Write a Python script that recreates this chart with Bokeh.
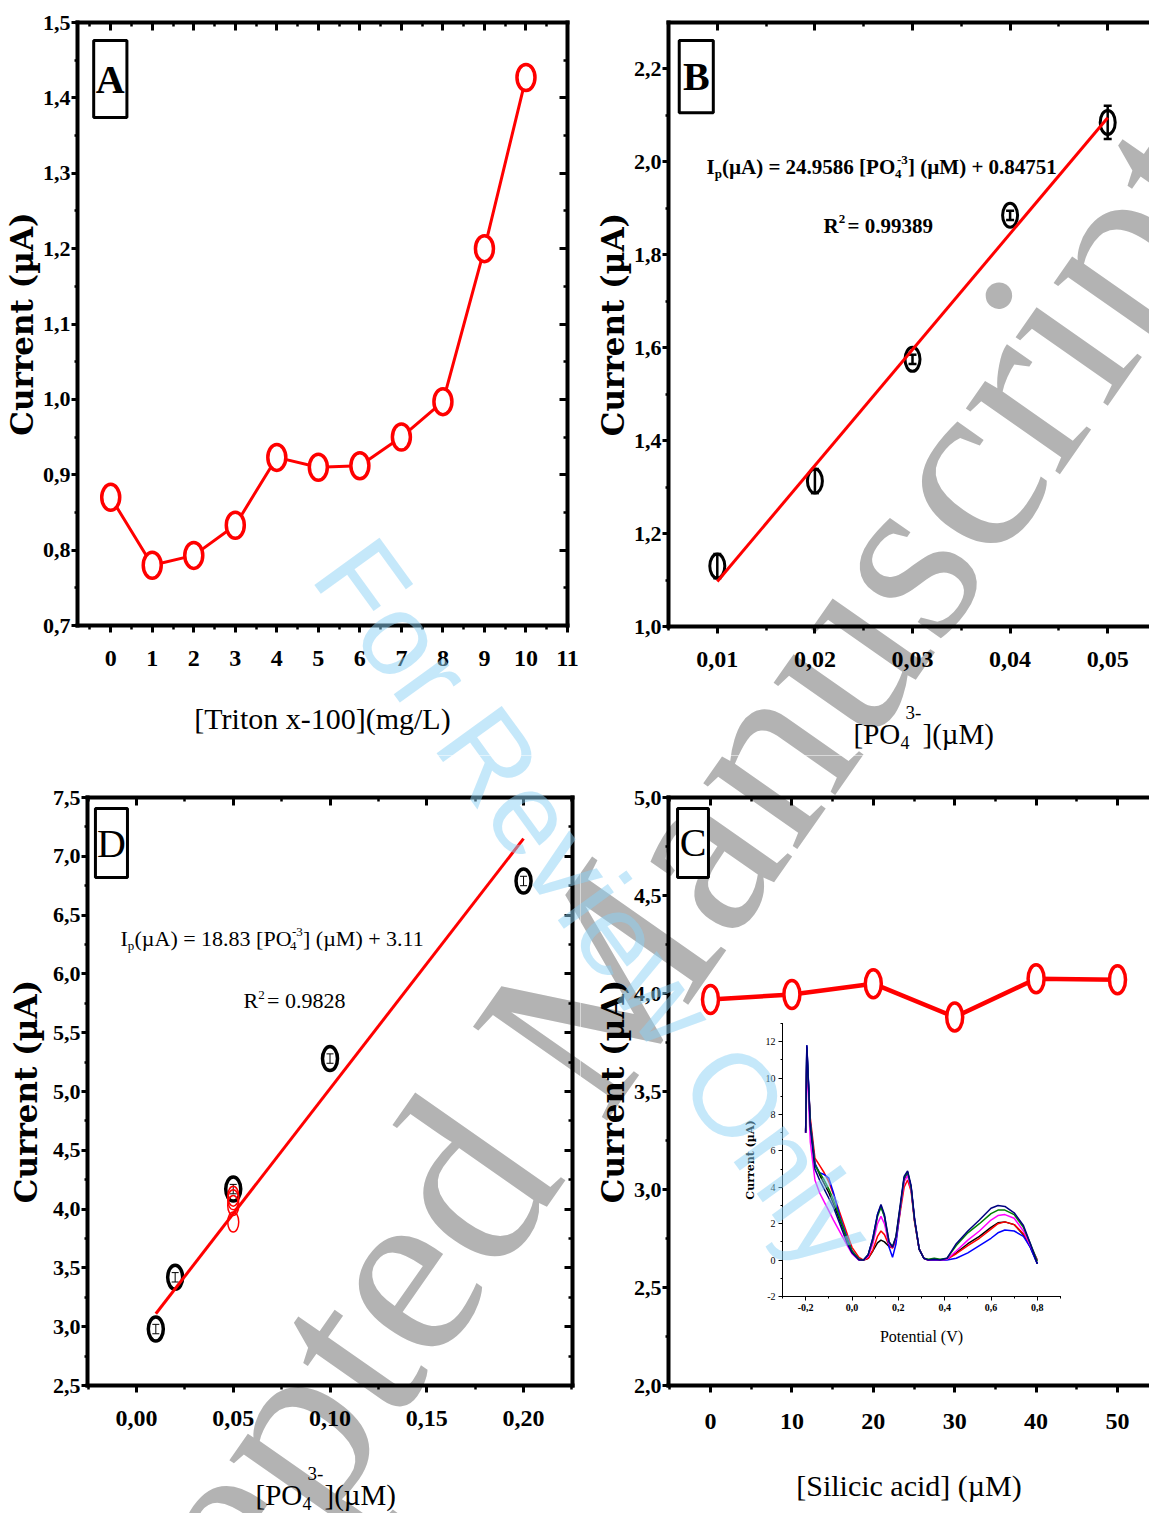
from bokeh.plotting import figure
from bokeh.models import (Range1d, LinearAxis, FixedTicker, Label, Whisker,
                          ColumnDataSource, TeeHead, CustomLabelingPolicy)
from bokeh.layouts import column, row
from bokeh.embed import file_html
from bokeh.resources import INLINE

# ---------------- data ----------------
# Panel A
a_triton = [0, 1, 2, 3, 4, 5, 6, 7, 8, 9, 10]
a_current = [0.870, 0.780, 0.793, 0.833, 0.923, 0.910, 0.912, 0.950, 0.997, 1.200, 1.427]
a_xticks = [0, 1, 2, 3, 4, 5, 6, 7, 8, 9, 10, 11]
a_xlabels = ["0", "1", "2", "3", "4", "5", "6", "7", "8", "9", "10", "11"]
a_yticks = [0.7, 0.8, 0.9, 1.0, 1.1, 1.2, 1.3, 1.4, 1.5]
a_ylabels = ["0,7", "0,8", "0,9", "1,0", "1,1", "1,2", "1,3", "1,4", "1,5"]

# Panel B
b_conc = [0.01, 0.02, 0.03, 0.04, 0.05]
b_current = [1.130, 1.313, 1.575, 1.885, 2.085]
b_err = [0.026, 0.026, 0.010, 0.010, 0.036]
b_fit_x = [0.01, 0.05]
b_fit_y = [1.097, 2.095]
b_xticks = [0.01, 0.02, 0.03, 0.04, 0.05]
b_xlabels = ["0,01", "0,02", "0,03", "0,04", "0,05"]
b_yticks = [1.0, 1.2, 1.4, 1.6, 1.8, 2.0, 2.2]
b_ylabels = ["1,0", "1,2", "1,4", "1,6", "1,8", "2,0", "2,2"]

# Panel D
d_conc = [0.01, 0.02, 0.05, 0.10, 0.20]
d_current = [2.98, 3.42, 4.17, 5.28, 6.79]
d_err = [0.04, 0.04, 0.04, 0.04, 0.04]
d_red_conc = [0.05, 0.05, 0.05, 0.05]
d_red_current = [4.11, 4.08, 4.03, 3.89]
d_fit_x = [0.01, 0.20]
d_fit_y = [3.11, 7.15]
d_xticks = [0.0, 0.05, 0.10, 0.15, 0.20]
d_xlabels = ["0,00", "0,05", "0,10", "0,15", "0,20"]
d_yticks = [2.5, 3.0, 3.5, 4.0, 4.5, 5.0, 5.5, 6.0, 6.5, 7.0, 7.5]
d_ylabels = ["2,5", "3,0", "3,5", "4,0", "4,5", "5,0", "5,5", "6,0", "6,5", "7,0", "7,5"]

# Panel C
c_silicic = [0, 10, 20, 30, 40, 50]
c_current = [3.97, 3.995, 4.05, 3.88, 4.075, 4.07]
c_xticks = [0, 10, 20, 30, 40, 50]
c_xlabels = ["0", "10", "20", "30", "40", "50"]
c_yticks = [2.0, 2.5, 3.0, 3.5, 4.0, 4.5, 5.0]
c_ylabels = ["2,0", "2,5", "3,0", "3,5", "4,0", "4,5", "5,0"]

# Inset of panel C (voltammograms)
inset_potential = [-0.2, -0.195, -0.18, -0.16, -0.14, -0.12, -0.10, -0.08, -0.05, -0.02,
                   0.0, 0.03, 0.05, 0.07, 0.09, 0.11, 0.125, 0.14, 0.16, 0.175,
                   0.19, 0.21, 0.225, 0.24, 0.255, 0.27, 0.29, 0.31, 0.33, 0.355,
                   0.38, 0.41, 0.45, 0.5, 0.55, 0.6, 0.63, 0.66, 0.7, 0.74, 0.77, 0.8]
inset_black = [7.0, 11.7, 7.5, 5.3, 4.7, 4.2, 3.7, 3.1, 2.1, 1.1,
               0.5, 0.05, 0.0, 0.1, 0.5, 0.95, 1.1, 1.0, 0.75, 0.7,
               1.2, 3.0, 4.4, 4.8, 4.0, 2.2, 0.6, 0.1, 0.0, 0.05,
               0.0, 0.05, 0.4, 0.9, 1.3, 1.8, 2.05, 2.1, 1.95, 1.4, 0.7, -0.2]
inset_red = [7.0, 11.0, 7.8, 5.6, 5.2, 4.8, 4.3, 3.6, 2.5, 1.4,
             0.7, 0.15, 0.0, 0.1, 0.55, 1.3, 1.6, 1.4, 0.8, 0.65,
             1.1, 2.8, 4.0, 4.4, 3.8, 2.1, 0.6, 0.1, 0.0, 0.0,
             0.0, 0.05, 0.35, 0.8, 1.2, 1.7, 2.0, 2.1, 1.95, 1.45, 0.8, 0.0]
inset_blue = [7.0, 11.8, 7.6, 5.3, 4.8, 4.7, 4.5, 3.7, 2.3, 1.2,
              0.5, 0.05, 0.0, 0.3, 1.2, 2.5, 3.0, 2.4, 0.7, 0.15,
              0.9, 3.0, 4.5, 4.8, 4.0, 2.2, 0.6, 0.1, 0.0, 0.0,
              0.0, 0.0, 0.1, 0.4, 0.8, 1.2, 1.5, 1.65, 1.6, 1.3, 0.7, -0.2]
inset_magenta = [7.0, 11.0, 6.5, 4.4, 3.7, 3.2, 2.7, 2.2, 1.5, 0.8,
                 0.35, 0.0, 0.0, 0.2, 0.9, 2.0, 2.4, 2.0, 0.9, 0.7,
                 1.2, 3.0, 4.3, 4.65, 3.9, 2.2, 0.6, 0.1, 0.0, 0.05,
                 0.0, 0.05, 0.5, 1.1, 1.6, 2.2, 2.45, 2.5, 2.3, 1.6, 0.8, 0.0]
inset_green = [7.1, 11.5, 7.5, 5.2, 4.8, 4.4, 3.9, 3.3, 2.2, 1.1,
               0.5, 0.05, 0.0, 0.3, 1.1, 2.4, 2.9, 2.4, 1.0, 0.75,
               1.3, 3.1, 4.5, 4.85, 4.0, 2.2, 0.6, 0.1, 0.05, 0.1,
               0.05, 0.1, 0.8, 1.5, 2.0, 2.55, 2.75, 2.75, 2.5, 1.8, 0.9, -0.05]
inset_navy = [7.0, 11.8, 7.3, 5.0, 4.4, 3.9, 3.4, 2.9, 1.9, 0.9,
              0.4, 0.0, 0.0, 0.3, 1.2, 2.5, 3.05, 2.5, 1.0, 0.7,
              1.3, 3.2, 4.6, 4.9, 4.1, 2.3, 0.6, 0.1, 0.0, 0.05,
              0.0, 0.1, 0.9, 1.6, 2.2, 2.85, 3.0, 2.95, 2.6, 1.9, 0.9, -0.2]
inset_series = [("black", inset_black), ("red", inset_red), ("blue", inset_blue),
                ("magenta", inset_magenta), ("green", inset_green), ("navy", inset_navy)]
inset_xticks = [-0.2, 0.0, 0.2, 0.4, 0.6, 0.8]
inset_xlabels = ["-0,2", "0,0", "0,2", "0,4", "0,6", "0,8"]
inset_yticks = [-2, 0, 2, 4, 6, 8, 10, 12]
inset_ylabels = ["-2", "0", "2", "4", "6", "8", "10", "12"]

# ---------------- styling helpers ----------------
SERIF = "Liberation Serif"
YLAB_FONT = "DejaVu Serif"


def midpoints(ticks, lo=None, hi=None):
    m = [(ticks[i] + ticks[i + 1]) / 2 for i in range(len(ticks) - 1)]
    step = ticks[1] - ticks[0]
    if lo is not None and ticks[0] - step / 2 >= lo:
        m = [ticks[0] - step / 2] + m
    if hi is not None and ticks[-1] + step / 2 <= hi:
        m = m + [ticks[-1] + step / 2]
    return m


def span_range(v0, v1, f0, f1, c0, c1):
    """Range covering canvas pixels c0..c1 when values v0, v1 sit at pixels f0, f1."""
    k = (v1 - v0) / (f1 - f0)
    return Range1d(v0 - (f0 - c0) * k, v1 + (c1 - f1) * k)


def span_range_y(v0, v1, f_bot, f_top, c_top, c_bot):
    k = (v1 - v0) / (f_bot - f_top)
    return Range1d(v0 - (c_bot - f_bot) * k, v1 + (f_top - c_top) * k)


def style_axis(ax, ticks, labels, minor, labelled, inward, major_len=8, minor_len=4,
               width=4, font_size="22px", bold=True, label_standoff=6):
    ax.ticker = FixedTicker(ticks=ticks, minor_ticks=minor)
    ax.axis_line_width = width
    ax.axis_line_color = "black"
    ax.axis_line_cap = "square"
    ax.major_tick_line_color = "black"
    ax.minor_tick_line_color = "black"
    ax.major_tick_line_width = 3 if width >= 3 else 1
    ax.minor_tick_line_width = 2.5 if width >= 3 else 1
    if inward:
        ax.major_tick_in, ax.major_tick_out = major_len, 0
        ax.minor_tick_in, ax.minor_tick_out = minor_len, 0
    else:
        ax.major_tick_in, ax.major_tick_out = 0, major_len
        ax.minor_tick_in, ax.minor_tick_out = 0, minor_len
    if labelled:
        ax.major_label_overrides = dict(zip(ticks, labels))
        ax.major_label_text_font = SERIF
        ax.major_label_text_font_size = font_size
        ax.major_label_text_font_style = "bold" if bold else "normal"
        ax.major_label_text_color = "black"
        ax.major_label_standoff = label_standoff
    else:
        ax.major_label_policy = CustomLabelingPolicy(code="return new Set()")
        ax.major_label_standoff = 0
        ax.axis_label = None


def make_panel(origin, size, xr, yr, frame, xt, xl, yt, yl, right=True, xlab_standoff=18):
    """A figure whose frame is its whole canvas; the panel's axes sit at fixed
    positions so that texts may be drawn anywhere on the canvas."""
    ox, oy = origin
    w, h = size
    fl, fr, ft, fb = frame
    p = figure(width=w, height=h,
               x_range=span_range(xr[0], xr[1], fl, fr, ox, ox + w),
               y_range=span_range_y(yr[0], yr[1], fb, ft, oy, oy + h),
               x_axis_location=None, y_axis_location=None,
               output_backend="svg", toolbar_location=None,
               min_border_left=0, min_border_right=0, min_border_top=0, min_border_bottom=0)
    p.outline_line_color = None
    p.xgrid.visible = False
    p.ygrid.visible = False
    p.background_fill_color = "white"
    p.border_fill_color = "white"
    xminor = midpoints(xt, xr[0], xr[1])
    yminor = midpoints(yt, yr[0], yr[1])
    bottom = LinearAxis(fixed_location=yr[0], bounds=xr)
    style_axis(bottom, xt, xl, xminor, True, False, major_len=7, font_size="24px",
               label_standoff=xlab_standoff)
    p.add_layout(bottom, "below")
    left = LinearAxis(fixed_location=xr[0], bounds=yr)
    style_axis(left, yt, yl, yminor, True, False, major_len=6, minor_len=3,
               font_size="22px", label_standoff=1)
    p.add_layout(left, "left")
    top = LinearAxis(fixed_location=yr[1], bounds=xr)
    style_axis(top, xt, xl, xminor, False, True)
    p.add_layout(top, "above")
    if right:
        rt = LinearAxis(fixed_location=xr[1], bounds=yr)
        style_axis(rt, yt, yl, yminor, False, True)
        p.add_layout(rt, "right")
    return p, bottom, left


def y_title(ax, standoff):
    ax.axis_label = "Current (µA)"
    ax.axis_label_text_font = YLAB_FONT
    ax.axis_label_text_font_size = "31px"
    ax.axis_label_text_font_style = "bold"
    ax.axis_label_text_color = "black"
    ax.axis_label_standoff = standoff


def x_title(ax, text, standoff):
    ax.axis_label = text
    ax.axis_label_text_font = SERIF
    ax.axis_label_text_font_size = "30px"
    ax.axis_label_text_font_style = "normal"
    ax.axis_label_text_color = "black"
    ax.axis_label_standoff = standoff


def clabel(p, origin, x, y, text, size, bold=False, font=SERIF, **kw):
    """Free text whose baseline-left corner sits at page position (x, y)."""
    ox, oy = origin
    lab = Label(x=x - ox, y=y - oy, x_units="canvas", y_units="canvas", text=text,
                text_font=font, text_font_size=f"{size}px",
                text_font_style="bold" if bold else "normal",
                text_color=kw.pop("text_color", "black"),
                text_baseline="alphabetic", text_align="left", **kw)
    p.add_layout(lab)


def watermark_under(p, origin):
    clabel(p, origin, -44, 1902, "Accepted Manuscript", 250, font=SERIF,
           angle=55, angle_units="deg", text_color="#b3b3b3", level="underlay")


def watermark_over(p, origin):
    clabel(p, origin, 341, 553, "For Review Only", 117, font="Liberation Sans",
           angle=-54, angle_units="deg", text_color="#8cd2f5", text_alpha=0.5)


def letter_box(p, l, r, t, b, letter, bold):
    p.quad(left=[l], right=[r], top=[t], bottom=[b], fill_color="white",
           line_color="black", line_width=3)
    p.add_layout(Label(x=(l + r) / 2, y=(t + b) / 2, text=letter, text_font=SERIF,
                       text_font_size="40px", text_font_style="bold" if bold else "normal",
                       text_align="center", text_baseline="middle", text_color="black"))


# ---------------- Panel A ----------------
OA, SA = (0, 0), (580, 755)
pA, axA_b, axA_l = make_panel(OA, SA, (-0.8, 11.0), (0.7, 1.5), (77, 567, 22, 625),
                              a_xticks, a_xlabels, a_yticks, a_ylabels)
watermark_under(pA, OA)
y_title(axA_l, 0)
x_title(axA_b, "[Triton x-100](mg/L)", 33)
pA.line(a_triton, a_current, line_color="red", line_width=3)
pA.ellipse(a_triton, a_current, width=18, height=26, width_units="screen",
           height_units="screen", fill_color="white", line_color="red", line_width=3.5)
letter_box(pA, -0.41, 0.39, 1.476, 1.374, "A", True)
watermark_over(pA, OA)

# ---------------- Panel B ----------------
OB, SB = (580, 0), (569, 755)
pB, axB_b, axB_l = make_panel(OB, SB, (0.005, 0.055), (1.0, 2.3), (668, 1156, 22, 626),
                              b_xticks, b_xlabels, b_yticks, b_ylabels, right=False)
watermark_under(pB, OB)
y_title(axB_l, 0)
src_b = ColumnDataSource(dict(x=b_conc, y=b_current,
                              lo=[v - e for v, e in zip(b_current, b_err)],
                              hi=[v + e for v, e in zip(b_current, b_err)]))
pB.add_layout(Whisker(base="x", lower="lo", upper="hi", source=src_b, line_color="black",
                      line_width=2.5,
                      lower_head=TeeHead(size=8, line_width=2.5, line_color="black"),
                      upper_head=TeeHead(size=8, line_width=2.5, line_color="black")))
pB.ellipse("x", "y", source=src_b, width=15, height=24, width_units="screen",
           height_units="screen", fill_color=None, line_color="black", line_width=3)
pB.line(b_fit_x, b_fit_y, line_color="red", line_width=3)
letter_box(pB, 0.0061, 0.00959, 2.261, 2.106, "B", True)
# equation
clabel(pB, OB, 706, 166, "I", 21, bold=True)
clabel(pB, OB, 714.2, 173, "p", 13, bold=True)
clabel(pB, OB, 721.4, 166, "(µA) = 24.9586 [PO", 21, bold=True)
clabel(pB, OB, 894.4, 173, "4", 13, bold=True)
clabel(pB, OB, 896.4, 159, "-3", 13, bold=True)
clabel(pB, OB, 907.5, 166, "] (µM) + 0.84751", 21, bold=True)
clabel(pB, OB, 823, 225, "R", 21, bold=True)
clabel(pB, OB, 838.2, 218, "2", 13, bold=True)
clabel(pB, OB, 847, 225, " = 0.99389", 21, bold=True)
# x title
clabel(pB, OB, 853, 733, "[PO", 29)
clabel(pB, OB, 900, 742, "4", 18)
clabel(pB, OB, 905, 712, "3-", 19)
clabel(pB, OB, 922, 733, "](µM)", 29)
watermark_over(pB, OB)

# ---------------- Panel D ----------------
OD, SD = (0, 755), (580, 758)
pD, axD_b, axD_l = make_panel(OD, SD, (-0.0253, 0.2253), (2.5, 7.5), (87, 572, 797, 1385),
                              d_xticks, d_xlabels, d_yticks, d_ylabels)
watermark_under(pD, OD)
y_title(axD_l, 6)
src_d = ColumnDataSource(dict(x=d_conc, y=d_current,
                              lo=[v - e for v, e in zip(d_current, d_err)],
                              hi=[v + e for v, e in zip(d_current, d_err)]))
pD.add_layout(Whisker(base="x", lower="lo", upper="hi", source=src_d, line_color="black",
                      line_width=1,
                      lower_head=TeeHead(size=7, line_width=1, line_color="black"),
                      upper_head=TeeHead(size=7, line_width=1, line_color="black")))
pD.ellipse("x", "y", source=src_d, width=15, height=24, width_units="screen",
           height_units="screen", fill_color=None, line_color="black", line_width=3.5)
pD.ellipse(d_red_conc, d_red_current, width=11, height=20, width_units="screen",
           height_units="screen", fill_color=None, line_color="red", line_width=1.5)
pD.line(d_fit_x, d_fit_y, line_color="red", line_width=3)
letter_box(pD, -0.0212, -0.00465, 7.406, 6.82, "D", False)
clabel(pD, OD, 120, 938, "I", 22)
clabel(pD, OD, 127.3, 945, "p", 13)
clabel(pD, OD, 134, 938, "(µA) = 18.83 [PO", 22)
clabel(pD, OD, 289.4, 945, "4", 13)
clabel(pD, OD, 291.4, 931, "-3", 13)
clabel(pD, OD, 302.5, 938, "] (µM) + 3.11", 22)
clabel(pD, OD, 243, 1000, "R", 22)
clabel(pD, OD, 257.7, 994, "2", 13)
clabel(pD, OD, 266.5, 1000, " = 0.9828", 22)
clabel(pD, OD, 255, 1494, "[PO", 29)
clabel(pD, OD, 302, 1503, "4", 18)
clabel(pD, OD, 307, 1473, "3-", 19)
clabel(pD, OD, 324, 1494, "](µM)", 29)
watermark_over(pD, OD)

# ---------------- Panel C ----------------
OC, SC = (580, 755), (569, 758)
C_FR = 668 + (55 + 5.16) * 8.14
pC, axC_b, axC_l = make_panel(OC, SC, (-5.16, 55.0), (2.0, 5.0), (668, C_FR, 797, 1385),
                              c_xticks, c_xlabels, c_yticks, c_ylabels, right=False,
                              xlab_standoff=21)
watermark_under(pC, OC)
y_title(axC_l, 0)
x_title(axC_b, "[Silicic acid] (µM)", 37)

# inset placement (page px) and inset data range
IN_BOX = (782, 1060, 1023, 1296)      # left, right, top, bottom
IN_X = (-0.3, 0.9)
IN_Y = (-2.0, 13.0)
pC.extra_x_ranges = {"ix": span_range(IN_X[0], IN_X[1], IN_BOX[0], IN_BOX[1],
                                      OC[0], OC[0] + SC[0])}
pC.extra_y_ranges = {"iy": span_range_y(IN_Y[0], IN_Y[1], IN_BOX[3], IN_BOX[2],
                                        OC[1], OC[1] + SC[1])}
iax = LinearAxis(x_range_name="ix", y_range_name="iy", fixed_location=IN_Y[0], bounds=IN_X)
style_axis(iax, inset_xticks, inset_xlabels, [-0.3, -0.1, 0.1, 0.3, 0.5, 0.7, 0.9], True, False,
           major_len=4, minor_len=2, width=1, font_size="10px", bold=True, label_standoff=3)
iax.axis_label = "Potential (V)"
iax.axis_label_text_font = SERIF
iax.axis_label_text_font_size = "16px"
iax.axis_label_text_font_style = "normal"
iax.axis_label_text_color = "black"
iax.axis_label_standoff = 14
pC.add_layout(iax, "below")
iay = LinearAxis(x_range_name="ix", y_range_name="iy", fixed_location=IN_X[0], bounds=IN_Y)
style_axis(iay, inset_yticks, inset_ylabels, [-1, 1, 3, 5, 7, 9, 11, 13], True, False,
           major_len=4, minor_len=2, width=1, font_size="10px", bold=False, label_standoff=3)
iay.axis_label = "Current (µA)"
iay.axis_label_text_font = YLAB_FONT
iay.axis_label_text_font_size = "11px"
iay.axis_label_text_font_style = "bold"
iay.axis_label_text_color = "black"
iay.axis_label_standoff = 6
pC.add_layout(iay, "left")
for col, ys in inset_series:
    pC.line(inset_potential, ys, line_color=col, line_width=1.5,
            x_range_name="ix", y_range_name="iy")

pC.line(c_silicic, c_current, line_color="red", line_width=4.5)
pC.ellipse(c_silicic, c_current, width=16, height=28, width_units="screen",
           height_units="screen", fill_color="white", line_color="red", line_width=3.5)
letter_box(pC, -4.05, -0.25, 4.944, 4.592, "C", False)
watermark_over(pC, OC)

layout = column(row(pA, pB, spacing=0), row(pD, pC, spacing=0), spacing=0)
open("out.html", "w").write(file_html(layout, INLINE))
